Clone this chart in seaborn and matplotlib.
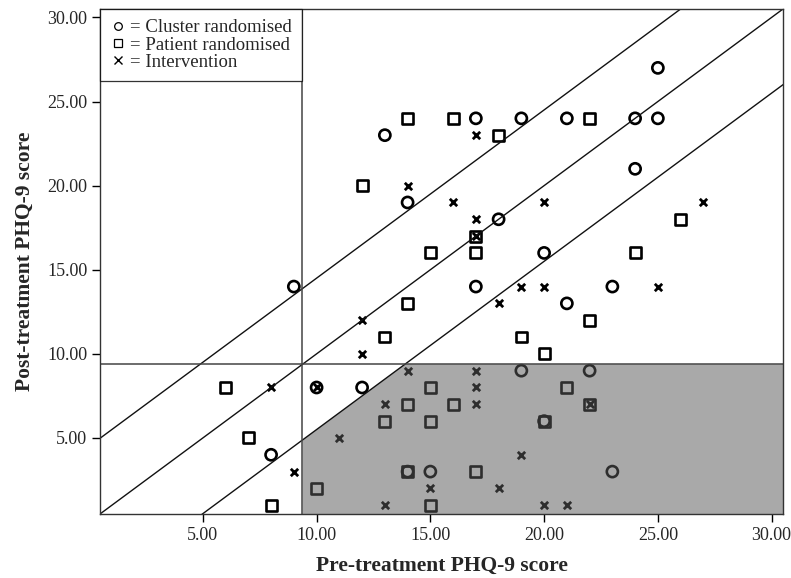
import pandas as pd
import matplotlib
matplotlib.use("Agg")
import matplotlib.pyplot as plt
import seaborn as sns
from matplotlib.lines import Line2D

# values (PHQ-9 scores, pre vs post treatment)
cluster_pre = [25, 13, 17, 19, 21, 24, 25, 24, 14, 18, 20, 9, 17, 23, 21, 12, 10, 8, 15, 14, 19, 22, 23, 20]
cluster_post = [27, 23, 24, 24, 24, 24, 24, 21, 19, 18, 16, 14, 14, 14, 13, 8, 8, 4, 3, 3, 9, 9, 3, 6]

patient_pre = [14, 12, 15, 14, 13, 16, 22, 18, 17, 17, 26, 24, 22, 19, 20, 6, 7, 8, 10, 14, 13, 15, 15, 14, 15, 16, 21, 22, 20, 17]
patient_post = [24, 20, 16, 13, 11, 24, 24, 23, 17, 16, 18, 16, 12, 11, 10, 8, 5, 1, 2, 7, 6, 8, 6, 3, 1, 7, 8, 7, 6, 3]

interv_pre = [14, 12, 12, 17, 16, 20, 27, 17, 19, 20, 25, 18, 17, 8, 10, 14, 13, 11, 9, 15, 13, 17, 17, 17, 19, 18, 20, 21, 22]
interv_post = [20, 12, 10, 23, 19, 19, 19, 18, 14, 14, 14, 13, 17, 8, 8, 9, 7, 5, 3, 2, 1, 9, 8, 7, 4, 2, 1, 1, 7]

cutoff = 9.38      # caseness threshold
rci = 4.5          # reliable change band
lims = (0.48, 30.5)
ticks = [5, 10, 15, 20, 25, 30]

df = pd.concat([
    pd.DataFrame({"pre": cluster_pre, "post": cluster_post, "group": "Cluster randomised"}),
    pd.DataFrame({"pre": patient_pre, "post": patient_post, "group": "Patient randomised"}),
    pd.DataFrame({"pre": interv_pre, "post": interv_post, "group": "Intervention"}),
])

sns.set_style("ticks")
plt.rcParams["font.family"] = ["Liberation Serif", "DejaVu Serif"]

fig = plt.figure(figsize=(7.91, 5.78), dpi=100)
ax = fig.add_axes([100 / 791, 1 - 514 / 578, 683 / 791, 505 / 578])

sub = df[df.group == "Cluster randomised"]
sns.scatterplot(data=sub, x="pre", y="post", marker="o", s=64, facecolors="none",
                edgecolor="black", linewidth=1.9, ax=ax, zorder=1)
sub = df[df.group == "Patient randomised"]
sns.scatterplot(data=sub, x="pre", y="post", marker="s", s=62, facecolors="none",
                edgecolor="black", linewidth=1.9, ax=ax, zorder=1)
sub = df[df.group == "Intervention"]
sns.scatterplot(data=sub, x="pre", y="post", marker="x", s=28, color="black",
                linewidth=2.0, ax=ax, zorder=1)

# shaded "recovered" region (semi-opaque so markers show through darker)
lo, hi = lims
poly_x = [cutoff, cutoff, cutoff + rci, hi, hi]
poly_y = [lo, cutoff - rci, cutoff, cutoff, lo]
ax.fill(poly_x, poly_y, color="#5a5a5a", alpha=0.52, lw=0, zorder=1.5)

# identity line and reliable change bands
for off in (-rci, 0, rci):
    ax.plot([lo - 10, hi + 10], [lo - 10 + off, hi + 10 + off], color="#111111", lw=1.0, zorder=2)
ax.axhline(cutoff, color="#444444", lw=1.1, zorder=2)
ax.axvline(cutoff, color="#444444", lw=1.1, zorder=2)

ax.set_xlim(lims)
ax.set_ylim(lims)
ax.set_xticks(ticks)
ax.set_yticks(ticks)
ax.set_xticklabels([f"{t:.2f}" for t in ticks], fontsize=13)
ax.set_yticklabels([f"{t:.2f}" for t in ticks], fontsize=13)
ax.tick_params(direction="out", length=6, width=1, color="black", pad=3)
for sp in ax.spines.values():
    sp.set_color("#333333")
    sp.set_linewidth(1.0)
    sp.set_zorder(3)

ax.set_xlabel("Pre-treatment PHQ-9 score", fontsize=15.5, fontweight="bold", labelpad=9)
ax.set_ylabel("Post-treatment PHQ-9 score", fontsize=15.5, fontweight="bold", labelpad=9)

handles = [
    Line2D([], [], ls="none", marker="o", ms=5.5, mfc="none", mec="black", mew=0.9),
    Line2D([], [], ls="none", marker="s", ms=5.5, mfc="none", mec="black", mew=0.9),
    Line2D([], [], ls="none", marker="x", ms=5.5, mec="black", mew=1.0),
]
labels = ["= Cluster randomised", "= Patient randomised", "= Intervention"]
leg = ax.legend(handles, labels, loc="upper left", bbox_to_anchor=(0, 1), borderaxespad=0,
                fontsize=13.5, frameon=True, fancybox=False, handlelength=0.8,
                handletextpad=0.25, labelspacing=0.0, borderpad=0.55)
leg.get_frame().set_edgecolor("black")
leg.get_frame().set_linewidth(0.9)
leg.set_zorder(5)

fig.savefig("out.png", dpi=100)
